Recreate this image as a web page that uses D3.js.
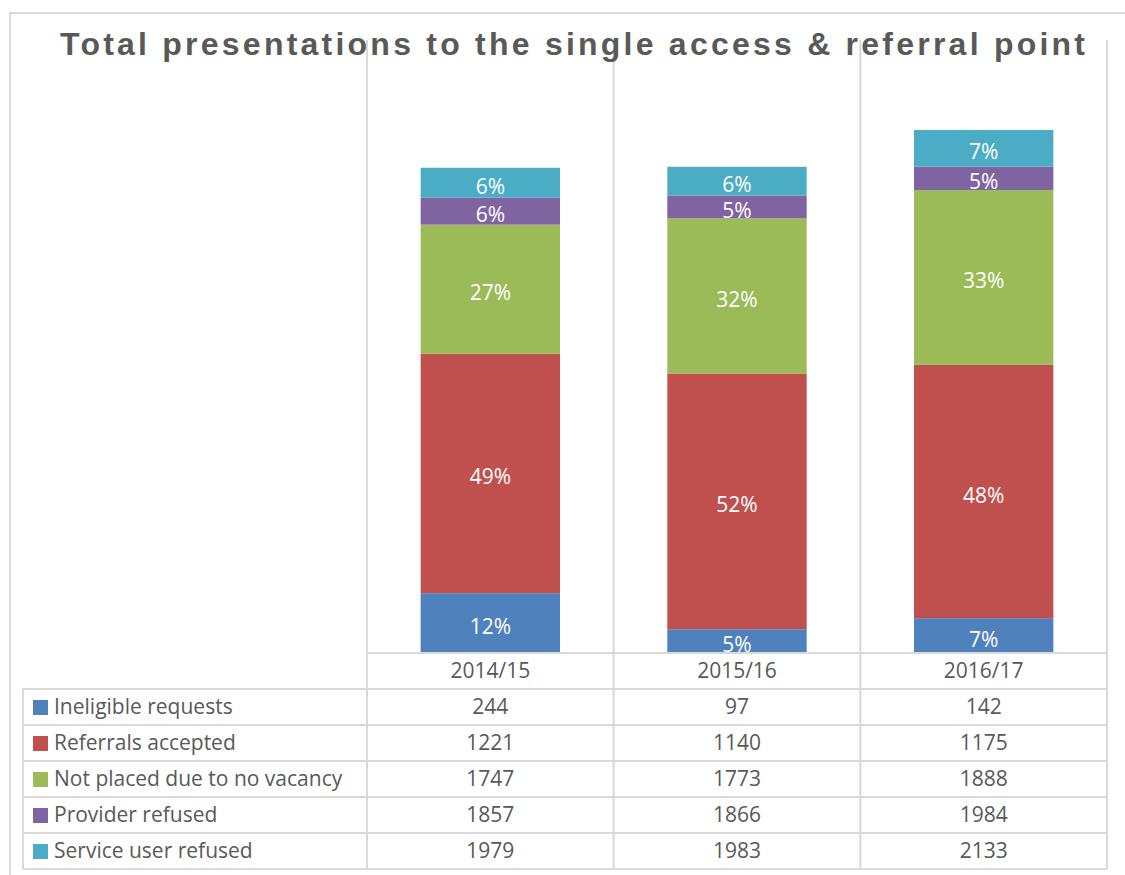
<!DOCTYPE html>
<html>
<head>
  <meta charset="utf-8">
  <title>Total presentations to the single access &amp; referral point</title>
  <script src="https://cdnjs.cloudflare.com/ajax/libs/d3/7.8.5/d3.min.js"></script>
  <style>
    html, body { margin: 0; padding: 0; background: #fff; }
    .cell-text { font-family: "Open Sans", sans-serif; font-size: 21px; fill: #595959; }
    .pct { font-family: "Open Sans", sans-serif; font-size: 21px; fill: #fff; }
  </style>
</head>
<body>
<div id="chart"></div>
<script>
  // categories and (cumulative) values as shown in the data table
  var years = ["2014/15", "2015/16", "2016/17"];
  var seriesNames = ["Ineligible requests", "Referrals accepted", "Not placed due to no vacancy", "Provider refused", "Service user refused"];
  var ineligible = [244, 97, 142];
  var accepted = [1221, 1140, 1175];
  var noVacancy = [1747, 1773, 1888];
  var providerRefused = [1857, 1866, 1984];
  var userRefused = [1979, 1983, 2133];
  // percentage labels printed on the bar segments
  var pctIneligible = ["12%", "5%", "7%"];
  var pctAccepted = ["49%", "52%", "48%"];
  var pctNoVacancy = ["27%", "32%", "33%"];
  var pctProvider = ["6%", "5%", "5%"];
  var pctUser = ["6%", "6%", "7%"];

  var colors = ["#4f81bd", "#c0504d", "#9bbb59", "#8064a2", "#4bacc6"];
  var cumulative = [ineligible, accepted, noVacancy, providerRefused, userRefused];
  var pctLabels = [pctIneligible, pctAccepted, pctNoVacancy, pctProvider, pctUser];

  var W = 1125, H = 875;
  var plotLeft = 367, plotRight = 1107, plotTop = 40, plotBottom = 653;
  var rowH = 36, tableLeft = 23;
  var grid = "#d9d9d9";

  var svg = d3.select("#chart").append("svg")
      .attr("width", W)
      .attr("height", H);

  // outer chart border
  svg.append("path")
      .attr("d", "M10," + H + "V13H" + W)
      .attr("fill", "none")
      .attr("stroke", grid)
      .attr("stroke-width", 2);

  var x = d3.scaleBand()
      .domain(years)
      .range([plotLeft, plotRight])
      .paddingInner(0)
      .paddingOuter(0);

  var y = d3.scaleLinear()
      .domain([0, 2500])
      .range([plotBottom, plotTop]);

  var barW = x.bandwidth() * 0.565;

  // build segments from the cumulative table
  var segs = [];
  cumulative.forEach(function (arr, si) {
    years.forEach(function (yr, i) {
      var lo = si === 0 ? 0 : cumulative[si - 1][i];
      segs.push({ s: si, year: yr, lo: lo, hi: arr[i], label: pctLabels[si][i] });
    });
  });

  svg.append("defs").append("clipPath").attr("id", "plotclip")
    .append("rect")
      .attr("x", plotLeft).attr("y", 0)
      .attr("width", plotRight - plotLeft).attr("height", plotBottom);

  var bars = svg.append("g").attr("clip-path", "url(#plotclip)");

  bars.selectAll("rect")
    .data(segs)
    .enter()
    .append("rect")
      .attr("x", d => x(d.year) + (x.bandwidth() - barW) / 2)
      .attr("y", d => y(d.hi))
      .attr("width", barW)
      .attr("height", d => y(d.lo) - y(d.hi))
      .attr("fill", d => colors[d.s]);

  bars.selectAll("text")
    .data(segs)
    .enter()
    .append("text")
      .attr("class", "pct")
      .attr("x", d => x(d.year) + x.bandwidth() / 2)
      .attr("y", d => (y(d.lo) + y(d.hi)) / 2 + 11)
      .attr("text-anchor", "middle")
      .text(d => d.label);

  // data table
  var tableBottom = plotBottom + rowH * 6;
  var tbl = svg.append("g");

  // vertical lines (chart gridlines continuing into the table)
  var edges = years.map(d => x(d)).concat([plotRight]);
  tbl.selectAll("line.v")
    .data(edges)
    .enter()
    .append("line")
      .attr("x1", d => d).attr("x2", d => d)
      .attr("y1", plotTop).attr("y2", tableBottom)
      .attr("stroke", grid).attr("stroke-width", 2);

  tbl.append("line")
      .attr("x1", tableLeft).attr("x2", tableLeft)
      .attr("y1", plotBottom + rowH).attr("y2", tableBottom)
      .attr("stroke", grid).attr("stroke-width", 2);

  // horizontal lines
  d3.range(7).forEach(function (r) {
    tbl.append("line")
        .attr("x1", r === 0 ? plotLeft : tableLeft)
        .attr("x2", plotRight)
        .attr("y1", plotBottom + r * rowH)
        .attr("y2", plotBottom + r * rowH)
        .attr("stroke", grid).attr("stroke-width", 2);
  });

  // header row: categories
  tbl.selectAll("text.hdr")
    .data(years)
    .enter()
    .append("text")
      .attr("class", "cell-text")
      .attr("x", d => x(d) + x.bandwidth() / 2)
      .attr("y", plotBottom + rowH / 2 + 7)
      .attr("text-anchor", "middle")
      .text(d => d);

  // legend rows
  seriesNames.forEach(function (name, si) {
    var top = plotBottom + rowH * (si + 1);
    tbl.append("rect")
        .attr("x", 33).attr("y", top + rowH / 2 - 7)
        .attr("width", 15).attr("height", 15)
        .attr("fill", colors[si]);
    tbl.append("text")
        .attr("class", "cell-text")
        .attr("x", 54)
        .attr("y", top + rowH / 2 + 7)
        .text(name);
    tbl.selectAll(null)
      .data(cumulative[si])
      .enter()
      .append("text")
        .attr("class", "cell-text")
        .attr("x", (d, i) => x(years[i]) + x.bandwidth() / 2)
        .attr("y", top + rowH / 2 + 7)
        .attr("text-anchor", "middle")
        .text(d => d);
  });

  // title
  svg.append("text")
      .attr("x", 60)
      .attr("y", 55)
      .attr("textLength", 1025)
      .attr("lengthAdjust", "spacing")
      .style("font-family", "'Liberation Sans', Arial, sans-serif")
      .style("font-weight", "bold")
      .style("font-size", "32px")
      .style("fill", "#595959")
      .text("Total presentations to the single access & referral point");
</script>
</body>
</html>
